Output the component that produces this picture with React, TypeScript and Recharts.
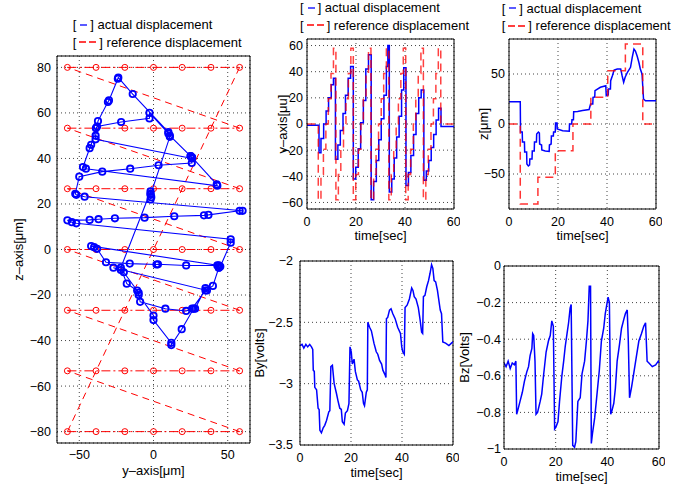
import React from "react";
import {
  ScatterChart,
  Scatter,
  LineChart,
  Line,
  XAxis,
  YAxis,
  CartesianGrid,
  ReferenceLine,
} from "recharts";

const FONT = '"Liberation Sans", Arial, Helvetica, sans-serif';
const BLUE = "#0000ff";
const RED = "#ff0000";

type XY = { y: number; z: number };
type Pt = { t: number; v: number };

// reference raster grid in the y-z plane [um]
const refGridY: number[] = [-58, -38.7, -19.3, 0, 19.3, 38.7, 58];
const refGridZ: number[] = [-80, -53.3, -26.7, 0, 26.7, 53.3, 80];

// measured path in the y-z plane, in time order
const actualPath: XY[] = [
  { y: -2, z: 22 }, { y: -1.5, z: 23 }, { y: -2, z: 24.5 }, { y: -2, z: 25.5 },
  { y: -22, z: -8 }, { y: -18, z: -15 }, { y: -11, z: -18 }, { y: -10, z: -20 }, { y: 0, z: -29 }, { y: 0, z: -31 },
  { y: 12, z: -41 }, { y: 12, z: -42 }, { y: 19, z: -35 }, { y: 27, z: -26 }, { y: 28, z: -26 }, { y: 35, z: -17 }, { y: 36, z: -18 },
  { y: -27, z: -8 }, { y: -22, z: -9 }, { y: -20, z: -10 }, { y: -10, z: -19 }, { y: -9, z: -23 }, { y: 8, z: -26 },
  { y: 22, z: -27 }, { y: 26, z: -26 }, { y: 35, z: -18 }, { y: 40, z: -16 }, { y: 44, z: -8 }, { y: 44, z: -7 },
  { y: -42, z: 1.5 }, { y: -40, z: 1 }, { y: -38, z: 0.3 }, { y: -32, z: -5.6 }, { y: -16, z: -6.2 }, { y: 2, z: -6.6 },
  { y: 3, z: -6.5 }, { y: 22, z: -7 }, { y: 43, z: -7 }, { y: 44, z: -8 }, { y: 45, z: -7.5 }, { y: 52, z: 3 }, { y: 52, z: 4.5 },
  { y: -52, z: 11.5 }, { y: -55, z: 12 }, { y: -58, z: 12.8 }, { y: -43, z: 13 }, { y: -37, z: 13.3 }, { y: -26, z: 13.7 },
  { y: -6, z: 14 }, { y: 14, z: 14.6 }, { y: 34, z: 15 }, { y: 37, z: 15.2 }, { y: 58, z: 17 }, { y: 60, z: 17 },
  { y: -46.4, z: 23.2 }, { y: -52, z: 24 }, { y: -52.7, z: 24.5 }, { y: -50, z: 32 }, { y: -34.5, z: 34.2 },
  { y: -15.7, z: 35.5 }, { y: 3.4, z: 37 }, { y: 25.8, z: 38 }, { y: 25, z: 41 }, { y: 26, z: 40.5 }, { y: 42.6, z: 28.6 }, { y: 43, z: 28 },
  { y: -45.5, z: 35.5 }, { y: -47.5, z: 36.2 }, { y: -43, z: 44.5 }, { y: -42, z: 46 }, { y: -38.8, z: 53.3 }, { y: -38, z: 54 },
  { y: -21.8, z: 56 }, { y: -2.7, z: 57.6 }, { y: -2.7, z: 60 }, { y: 10, z: 51 }, { y: 11, z: 50 }, { y: 25, z: 41 }, { y: 26, z: 40 },
  { y: -39, z: 48.4 }, { y: -39, z: 50 }, { y: -37.4, z: 56.4 }, { y: -30.7, z: 64.8 }, { y: -30, z: 65.5 }, { y: -24, z: 75 },
  { y: -23.7, z: 75.5 }, { y: -14, z: 68.3 }, { y: 10, z: 51.6 }, { y: 11, z: 49.5 },
  { y: -2, z: 24 },
];

// y reference vs time (held values)
const refYTime: Pt[] = [
  { t: 0, v: 0 },
  { t: 4.6, v: -58 }, { t: 5.7, v: -38.7 }, { t: 6.7, v: -19.3 }, { t: 7.7, v: 0 }, { t: 8.7, v: 19.3 }, { t: 9.8, v: 38.7 }, { t: 10.8, v: 58 },
  { t: 11.8, v: -58 }, { t: 12.8, v: -38.7 }, { t: 13.8, v: -19.3 }, { t: 14.9, v: 0 }, { t: 15.9, v: 19.3 }, { t: 16.9, v: 38.7 }, { t: 17.9, v: 58 },
  { t: 18.9, v: -58 }, { t: 19.9, v: -38.7 }, { t: 21.0, v: -19.3 }, { t: 22.0, v: 0 }, { t: 23.0, v: 19.3 }, { t: 24.1, v: 38.7 }, { t: 25.1, v: 58 },
  { t: 26.1, v: -58 }, { t: 27.2, v: -38.7 }, { t: 28.2, v: -19.3 }, { t: 29.2, v: 0 }, { t: 30.3, v: 19.3 }, { t: 31.3, v: 38.7 }, { t: 32.4, v: 58 },
  { t: 33.4, v: -58 }, { t: 34.4, v: -38.7 }, { t: 35.4, v: -19.3 }, { t: 36.4, v: 0 }, { t: 37.3, v: 19.3 }, { t: 38.3, v: 38.7 }, { t: 39.3, v: 58 },
  { t: 40.3, v: -58 }, { t: 41.3, v: -38.7 }, { t: 42.3, v: -19.3 }, { t: 43.4, v: 0 }, { t: 44.4, v: 19.3 }, { t: 45.4, v: 38.7 }, { t: 46.5, v: 58 },
  { t: 47.5, v: -58 }, { t: 48.5, v: -38.7 }, { t: 49.5, v: -19.3 }, { t: 50.6, v: 0 }, { t: 51.6, v: 19.3 }, { t: 52.6, v: 38.7 }, { t: 53.6, v: 58 },
  { t: 54.6, v: 0 }, { t: 60, v: 0 },
];

// measured y vs time (held values)
const actualYTime: Pt[] = [
  { t: 0, v: -1 },
  { t: 4.9, v: -22 }, { t: 5.7, v: -11 }, { t: 6.8, v: 0 }, { t: 7.8, v: 10 }, { t: 8.8, v: 20 }, { t: 9.9, v: 30 }, { t: 10.8, v: 35 },
  { t: 11.6, v: -27 }, { t: 12.6, v: -16 }, { t: 13.6, v: -5 }, { t: 14.7, v: 8 }, { t: 15.7, v: 22 }, { t: 16.8, v: 35 }, { t: 17.8, v: 44 },
  { t: 18.9, v: -42 }, { t: 19.9, v: -33 }, { t: 20.9, v: -19 }, { t: 21.9, v: 1 }, { t: 23.0, v: 18 }, { t: 24.0, v: 42 }, { t: 25.1, v: 53 },
  { t: 26.2, v: -58 }, { t: 27.2, v: -44 }, { t: 28.3, v: -28 }, { t: 29.3, v: -12 }, { t: 30.3, v: 4 }, { t: 31.4, v: 22 }, { t: 32.4, v: 44 }, { t: 33.0, v: 60 },
  { t: 33.6, v: -52 }, { t: 34.6, v: -42 }, { t: 35.6, v: -26 }, { t: 36.6, v: -10 }, { t: 37.6, v: 6 }, { t: 38.6, v: 26 }, { t: 39.5, v: 43 },
  { t: 40.4, v: -47 }, { t: 41.4, v: -37 }, { t: 42.4, v: -24 }, { t: 43.5, v: -8 }, { t: 44.5, v: 8 }, { t: 45.6, v: 20 }, { t: 46.6, v: 26 },
  { t: 47.7, v: -43 }, { t: 48.7, v: -36 }, { t: 49.7, v: -28 }, { t: 50.7, v: -18 }, { t: 51.7, v: -8 }, { t: 52.7, v: 3 }, { t: 53.7, v: 12 },
  { t: 54.7, v: -2 }, { t: 60, v: -1.5 },
];

// z reference vs time (held values)
const refZTime: Pt[] = [
  { t: 0, v: 0 }, { t: 4.6, v: -80 }, { t: 11.8, v: -53.3 }, { t: 18.9, v: -26.7 }, { t: 26.1, v: 0 },
  { t: 33.4, v: 26.7 }, { t: 40.3, v: 53.3 }, { t: 47.5, v: 80 }, { t: 54.6, v: 0 }, { t: 60, v: 0 },
];

// measured z vs time
const actualZTime: Pt[] = [
  { t: 0, v: 22.3 }, { t: 4.6, v: 22.3 }, { t: 4.7, v: -8 }, { t: 5.4, v: -8 }, { t: 5.5, v: -18 }, { t: 6.3, v: -18 },
  { t: 6.4, v: -28 }, { t: 7.2, v: -28 }, { t: 7.3, v: -40 }, { t: 7.9, v: -42 }, { t: 8.4, v: -41 }, { t: 8.5, v: -35 },
  { t: 9.4, v: -35 }, { t: 9.5, v: -27 }, { t: 10.3, v: -27 }, { t: 10.4, v: -18 }, { t: 11.2, v: -18 }, { t: 11.3, v: -10 },
  { t: 12.0, v: -8 }, { t: 12.4, v: -9 }, { t: 12.5, v: -20 }, { t: 13.3, v: -21 }, { t: 13.4, v: -26 }, { t: 14.8, v: -27 },
  { t: 16.4, v: -27.5 }, { t: 16.5, v: -21 }, { t: 17.2, v: -20 }, { t: 17.3, v: -12 }, { t: 18.1, v: -12 }, { t: 18.2, v: -8 },
  { t: 18.9, v: -8 }, { t: 19.0, v: 1 }, { t: 19.6, v: 1 }, { t: 19.7, v: -5 }, { t: 21.9, v: -6.7 }, { t: 24.6, v: -7.3 },
  { t: 24.7, v: 0 }, { t: 25.6, v: 0 }, { t: 25.7, v: 4.3 }, { t: 26.3, v: 4.3 }, { t: 26.4, v: 12.3 }, { t: 28, v: 12.6 },
  { t: 30, v: 13.5 }, { t: 32.7, v: 14.5 }, { t: 33.3, v: 20 }, { t: 34.2, v: 20 }, { t: 34.3, v: 26.7 }, { t: 35.0, v: 27 },
  { t: 35.1, v: 33.3 }, { t: 37.3, v: 36.7 }, { t: 39.5, v: 38.3 }, { t: 39.7, v: 28.3 }, { t: 40.5, v: 29 }, { t: 40.6, v: 35 },
  { t: 41.4, v: 35 }, { t: 41.5, v: 43.3 }, { t: 42.2, v: 48.3 }, { t: 42.9, v: 54 }, { t: 44.2, v: 55 }, { t: 45.6, v: 55 },
  { t: 46.2, v: 48 }, { t: 46.8, v: 41.7 }, { t: 47.4, v: 46.7 }, { t: 48.4, v: 52 }, { t: 49.6, v: 56.7 }, { t: 50.3, v: 66.7 },
  { t: 51.0, v: 75 }, { t: 51.6, v: 73 }, { t: 52.3, v: 68 }, { t: 53.0, v: 61.7 }, { t: 53.6, v: 55 }, { t: 54.3, v: 50 },
  { t: 54.9, v: 25 }, { t: 55.7, v: 23.3 }, { t: 60, v: 23.3 },
];

// sensor voltages
const byVolts: Pt[] = [
  { t: 0, v: -2.69 }, { t: 0.8, v: -2.68 }, { t: 1.5, v: -2.71 }, { t: 2.3, v: -2.68 }, { t: 3.0, v: -2.7 }, { t: 3.8, v: -2.68 },
  { t: 4.5, v: -2.7 }, { t: 5.0, v: -2.72 }, { t: 5.2, v: -2.89 }, { t: 5.6, v: -2.9 }, { t: 5.8, v: -3.03 }, { t: 6.5, v: -3.05 },
  { t: 7.1, v: -3.2 }, { t: 7.5, v: -3.21 }, { t: 7.8, v: -3.38 }, { t: 8.4, v: -3.4 }, { t: 9.1, v: -3.36 }, { t: 9.7, v: -3.34 },
  { t: 10.4, v: -3.3 }, { t: 11.3, v: -3.23 }, { t: 11.7, v: -3.22 }, { t: 12.1, v: -2.86 }, { t: 12.7, v: -2.85 }, { t: 13.4, v: -3.0 },
  { t: 14.3, v: -3.08 }, { t: 14.9, v: -3.14 }, { t: 15.6, v: -3.2 }, { t: 16.2, v: -3.21 }, { t: 16.6, v: -3.31 }, { t: 17.3, v: -3.33 },
  { t: 17.8, v: -3.24 }, { t: 18.6, v: -3.22 }, { t: 19.2, v: -3.16 }, { t: 19.6, v: -2.7 }, { t: 20.1, v: -2.74 }, { t: 20.5, v: -2.84 },
  { t: 21.2, v: -2.8 }, { t: 21.7, v: -2.9 }, { t: 22.5, v: -2.97 }, { t: 23.0, v: -2.98 }, { t: 23.8, v: -3.05 }, { t: 24.4, v: -3.07 },
  { t: 24.9, v: -3.16 }, { t: 25.3, v: -3.18 }, { t: 26.0, v: -3.07 }, { t: 26.4, v: -3.05 }, { t: 26.6, v: -2.5 }, { t: 27.3, v: -2.54 },
  { t: 28.0, v: -2.57 }, { t: 29.0, v: -2.67 }, { t: 29.9, v: -2.74 }, { t: 30.5, v: -2.76 }, { t: 31.2, v: -2.81 }, { t: 32.0, v: -2.84 },
  { t: 32.5, v: -2.89 }, { t: 33.4, v: -2.93 }, { t: 33.7, v: -2.95 }, { t: 33.9, v: -2.47 }, { t: 34.4, v: -2.46 }, { t: 35.1, v: -2.4 },
  { t: 35.7, v: -2.39 }, { t: 36.4, v: -2.43 }, { t: 37.3, v: -2.47 }, { t: 38.3, v: -2.54 }, { t: 39.4, v: -2.59 }, { t: 39.9, v: -2.7 },
  { t: 40.3, v: -2.74 }, { t: 40.9, v: -2.76 }, { t: 41.2, v: -2.38 }, { t: 42.0, v: -2.36 }, { t: 42.9, v: -2.31 }, { t: 43.8, v: -2.22 },
  { t: 44.3, v: -2.24 }, { t: 44.8, v: -2.29 }, { t: 45.5, v: -2.31 }, { t: 46.4, v: -2.38 }, { t: 47.1, v: -2.48 }, { t: 47.7, v: -2.58 },
  { t: 48.1, v: -2.59 }, { t: 48.4, v: -2.29 }, { t: 49.0, v: -2.28 }, { t: 49.7, v: -2.21 }, { t: 50.4, v: -2.16 }, { t: 51.0, v: -2.1 },
  { t: 51.6, v: -2.03 }, { t: 52.1, v: -2.06 }, { t: 52.6, v: -2.16 }, { t: 53.2, v: -2.17 }, { t: 53.9, v: -2.24 }, { t: 55.0, v: -2.4 },
  { t: 55.5, v: -2.43 }, { t: 56.0, v: -2.66 }, { t: 57.1, v: -2.67 }, { t: 58.4, v: -2.69 }, { t: 59.4, v: -2.67 }, { t: 60, v: -2.66 },
];

const bzVolts: Pt[] = [
  { t: 0, v: -0.53 }, { t: 0.8, v: -0.55 }, { t: 1.6, v: -0.52 }, { t: 2.4, v: -0.56 }, { t: 3.2, v: -0.53 }, { t: 4.0, v: -0.54 },
  { t: 4.6, v: -0.52 }, { t: 4.9, v: -0.81 }, { t: 5.3, v: -0.79 }, { t: 6.2, v: -0.74 }, { t: 7.1, v: -0.69 }, { t: 7.9, v: -0.63 },
  { t: 8.8, v: -0.58 }, { t: 9.5, v: -0.55 }, { t: 10.1, v: -0.49 }, { t: 10.8, v: -0.45 }, { t: 11.1, v: -0.37 }, { t: 11.5, v: -0.38 },
  { t: 12.0, v: -0.52 }, { t: 12.4, v: -0.81 }, { t: 13.0, v: -0.8 }, { t: 14.0, v: -0.74 }, { t: 14.6, v: -0.7 }, { t: 15.3, v: -0.6 },
  { t: 16.3, v: -0.47 }, { t: 17.2, v: -0.41 }, { t: 17.9, v: -0.38 }, { t: 18.5, v: -0.3 }, { t: 19.1, v: -0.33 }, { t: 19.6, v: -0.89 },
  { t: 20.1, v: -0.88 }, { t: 20.9, v: -0.85 }, { t: 21.5, v: -0.74 }, { t: 22.4, v: -0.6 }, { t: 23.1, v: -0.52 }, { t: 23.7, v: -0.44 },
  { t: 24.4, v: -0.37 }, { t: 25.0, v: -0.31 }, { t: 25.6, v: -0.23 }, { t: 26.0, v: -0.21 }, { t: 26.6, v: -0.98 }, { t: 27.3, v: -0.99 },
  { t: 27.8, v: -0.96 }, { t: 28.6, v: -0.74 }, { t: 29.5, v: -0.72 }, { t: 30.2, v: -0.59 }, { t: 31.2, v: -0.52 }, { t: 31.9, v: -0.41 },
  { t: 32.5, v: -0.3 }, { t: 33.0, v: -0.11 }, { t: 33.5, v: -0.11 }, { t: 33.8, v: -0.97 }, { t: 34.3, v: -0.91 }, { t: 35.1, v: -0.83 },
  { t: 36.0, v: -0.7 }, { t: 36.9, v: -0.57 }, { t: 37.7, v: -0.41 }, { t: 38.6, v: -0.34 }, { t: 39.2, v: -0.26 }, { t: 40.3, v: -0.17 },
  { t: 40.8, v: -0.2 }, { t: 41.3, v: -0.81 }, { t: 41.8, v: -0.79 }, { t: 42.5, v: -0.75 }, { t: 43.1, v: -0.67 }, { t: 43.8, v: -0.52 },
  { t: 44.7, v: -0.43 }, { t: 45.5, v: -0.34 }, { t: 46.4, v: -0.29 }, { t: 47.0, v: -0.26 }, { t: 47.7, v: -0.24 }, { t: 48.1, v: -0.4 },
  { t: 48.6, v: -0.72 }, { t: 49.4, v: -0.66 }, { t: 50.3, v: -0.58 }, { t: 51.3, v: -0.49 }, { t: 52.2, v: -0.41 }, { t: 53.2, v: -0.37 },
  { t: 54.1, v: -0.33 }, { t: 54.8, v: -0.31 }, { t: 55.4, v: -0.52 }, { t: 56.1, v: -0.53 }, { t: 57.4, v: -0.55 }, { t: 58.7, v: -0.54 },
  { t: 59.7, v: -0.52 }, { t: 60, v: -0.53 },
];

const timeTicks: number[] = [0, 20, 40, 60];
const planeYTicks: number[] = [-50, 0, 50];
const planeZTicks: number[] = [-80, -60, -40, -20, 0, 20, 40, 60, 80];
const yTimeTicks: number[] = [-60, -40, -20, 0, 20, 40, 60];
const zTimeTicks: number[] = [-50, 0, 50];
const byTicks: number[] = [-3.5, -3, -2.5, -2];
const bzTicks: number[] = [-1, -0.8, -0.6, -0.4, -0.2, 0];
const legendLabels: string[] = ["actual displacement", "reference displacement"];

const fmt = (v: number) => (v < 0 ? "\u2212" + String(Math.abs(v)) : String(v));
const tickStyle = { fill: "#000", fontSize: 12.5, fontFamily: FONT };
const labelStyle = { fill: "#000", fontSize: 13, fontFamily: FONT };

const LegendBox: React.FC<{ left: number; top: number }> = ({ left, top }) => (
  <div
    style={{
      position: "absolute", left, top, fontFamily: FONT, fontSize: 13, color: "#000",
      lineHeight: "17.3px", whiteSpace: "nowrap",
    }}
  >
    <div style={{ display: "flex", alignItems: "center", height: 17.3 }}>
      <span>[</span>
      <svg width={14} height={10}>
        <line x1={4} x2={11} y1={5} y2={5} stroke={BLUE} strokeWidth={1.3} />
      </svg>
      <span>]&nbsp;{legendLabels[0]}</span>
    </div>
    <div style={{ display: "flex", alignItems: "center", height: 17.3 }}>
      <span>[</span>
      <svg width={23} height={10}>
        <line x1={3} x2={20} y1={5} y2={5} stroke={RED} strokeWidth={1.3} strokeDasharray="7 3" />
      </svg>
      <span>]&nbsp;{legendLabels[1]}</span>
    </div>
  </div>
);

const redCircle = (p: any) => (
  <circle cx={p.cx} cy={p.cy} r={3} fill="none" stroke={RED} strokeWidth={1} />
);
const blueCircle = (p: any) => (
  <circle cx={p.cx} cy={p.cy} r={3.2} fill="none" stroke={BLUE} strokeWidth={1.8} />
);

const PlanePlot: React.FC = () => {
  const last = refGridY.length - 1;
  return (
    <div style={{ position: "absolute", left: 0, top: 0 }}>
      <ScatterChart width={260} height={489} margin={{ top: 56, right: 10, bottom: 0, left: 0 }}>
        <CartesianGrid strokeDasharray="1 3" stroke="#444" />
        <XAxis
          type="number" dataKey="y" domain={[-65, 65]} ticks={planeYTicks} allowDataOverflow
          height={46} tickLine={false} tickSize={0} tickMargin={7} tick={tickStyle}
          tickFormatter={fmt} axisLine={{ stroke: "#000" }}
          label={{ value: "y\u2013axis[\u03bcm]", position: "insideBottom", offset: 14, ...labelStyle }}
        />
        <YAxis
          type="number" dataKey="z" domain={[-85, 85]} ticks={planeZTicks} allowDataOverflow
          width={57} tickLine={false} tickSize={0} tickMargin={6} tick={tickStyle}
          tickFormatter={fmt} axisLine={{ stroke: "#000" }}
          label={{
            value: "z\u2013axis[\u03bcm]", angle: -90, position: "insideLeft", offset: 18,
            style: { textAnchor: "middle" }, ...labelStyle,
          }}
        />
        <ReferenceLine x={65} stroke="#000" />
        <ReferenceLine y={85} stroke="#000" />
        {refGridZ.slice(0, -1).map((z, k) => (
          <ReferenceLine
            key={`diag-${k}`}
            segment={[{ x: refGridY[last], y: z }, { x: refGridY[0], y: refGridZ[k + 1] }]}
            stroke={RED} strokeDasharray="7 5"
          />
        ))}
        <ReferenceLine
          segment={[{ x: refGridY[0], y: refGridZ[0] }, { x: refGridY[last], y: refGridZ[last] }]}
          stroke={RED} strokeDasharray="7 5"
        />
        {refGridZ.map((z, k) => (
          <Scatter
            key={`row-${k}`}
            data={refGridY.map((y) => ({ y, z }))}
            line={{ stroke: RED, strokeWidth: 1, strokeDasharray: "9 3 2 3" }}
            shape={redCircle}
            isAnimationActive={false}
          />
        ))}
        <Scatter
          data={actualPath}
          line={{ stroke: BLUE, strokeWidth: 1.1 }}
          shape={blueCircle}
          isAnimationActive={false}
        />
      </ScatterChart>
    </div>
  );
};

type Series = { data: Pt[]; color: string; dash?: string; step?: boolean; opacity?: number };

interface TimePlotProps {
  left: number;
  top: number;
  width: number;
  height: number;
  marginTop: number;
  yAxisWidth: number;
  xAxisHeight: number;
  yDomain: [number, number];
  yTicks: number[];
  yLabel: string;
  yLabelOffset: number;
  yTickMargin: number;
  xLabelOffset: number;
  series: Series[];
}

const TimePlot: React.FC<TimePlotProps> = (p) => (
  <div style={{ position: "absolute", left: p.left, top: p.top }}>
    <LineChart width={p.width} height={p.height} margin={{ top: p.marginTop, right: 6, bottom: 0, left: 0 }}>
      <CartesianGrid strokeDasharray="1 3" stroke="#444" />
      <XAxis
        type="number" dataKey="t" domain={[0, 60]} ticks={timeTicks} allowDataOverflow
        height={p.xAxisHeight} tickLine={false} tickSize={0} tickMargin={8} tick={tickStyle}
        axisLine={{ stroke: "#000" }}
        label={{ value: "time[sec]", position: "insideBottom", offset: p.xLabelOffset, ...labelStyle }}
      />
      <YAxis
        type="number" domain={p.yDomain} ticks={p.yTicks} allowDataOverflow
        width={p.yAxisWidth} tickLine={false} tickSize={0} tickMargin={p.yTickMargin} tick={tickStyle}
        tickFormatter={fmt} axisLine={{ stroke: "#000" }}
        label={{
          value: p.yLabel, angle: -90, position: "insideLeft", offset: p.yLabelOffset,
          style: { textAnchor: "middle" }, ...labelStyle,
        }}
      />
      <ReferenceLine x={60} stroke="#000" />
      <ReferenceLine y={p.yDomain[1]} stroke="#000" />
      {p.series.map((s, i) => (
        <Line
          key={i}
          data={s.data}
          dataKey="v"
          type={s.step ? "stepAfter" : "linear"}
          stroke={s.color}
          strokeWidth={1.5}
          strokeDasharray={s.dash}
          strokeOpacity={s.opacity ?? 1}
          dot={false}
          isAnimationActive={false}
        />
      ))}
    </LineChart>
  </div>
);

export default function App() {
  return (
    <div style={{ position: "absolute", left: 0, top: 0, width: 684, height: 489, background: "#fff", overflow: "hidden" }}>
      <PlanePlot />
      <TimePlot
        left={270} top={0} width={190} height={250} marginTop={39} yAxisWidth={37} xAxisHeight={41}
        yDomain={[-65, 65]} yTicks={yTimeTicks} yLabel={"y\u2013axis[\u03bcu]"} yLabelOffset={12} yTickMargin={4}
        xLabelOffset={10}
        series={[
          { data: actualYTime, color: BLUE, step: true },
          { data: refYTime, color: RED, step: true, dash: "8 5", opacity: 0.75 },
        ]}
      />
      <TimePlot
        left={470} top={0} width={192} height={250} marginTop={39} yAxisWidth={39} xAxisHeight={41}
        yDomain={[-85, 85]} yTicks={zTimeTicks} yLabel={"z[\u03bcm]"} yLabelOffset={13} yTickMargin={4}
        xLabelOffset={10}
        series={[
          { data: actualZTime, color: BLUE },
          { data: refZTime, color: RED, step: true, dash: "8 5", opacity: 0.8 },
        ]}
      />
      <TimePlot
        left={250} top={250} width={209} height={239} marginTop={11} yAxisWidth={50} xAxisHeight={44}
        yDomain={[-3.5, -2]} yTicks={byTicks} yLabel="By[volts]" yLabelOffset={9} yTickMargin={7}
        xLabelOffset={12}
        series={[{ data: byVolts, color: BLUE }]}
      />
      <TimePlot
        left={455} top={250} width={210} height={239} marginTop={16} yAxisWidth={49} xAxisHeight={40}
        yDomain={[-1, 0]} yTicks={bzTicks} yLabel="Bz[Volts]" yLabelOffset={9} yTickMargin={3}
        xLabelOffset={8}
        series={[{ data: bzVolts, color: BLUE }]}
      />
      <LegendBox left={72.7} top={16.3} />
      <LegendBox left={300} top={-0.8} />
      <LegendBox left={501.7} top={-0.4} />
    </div>
  );
}
